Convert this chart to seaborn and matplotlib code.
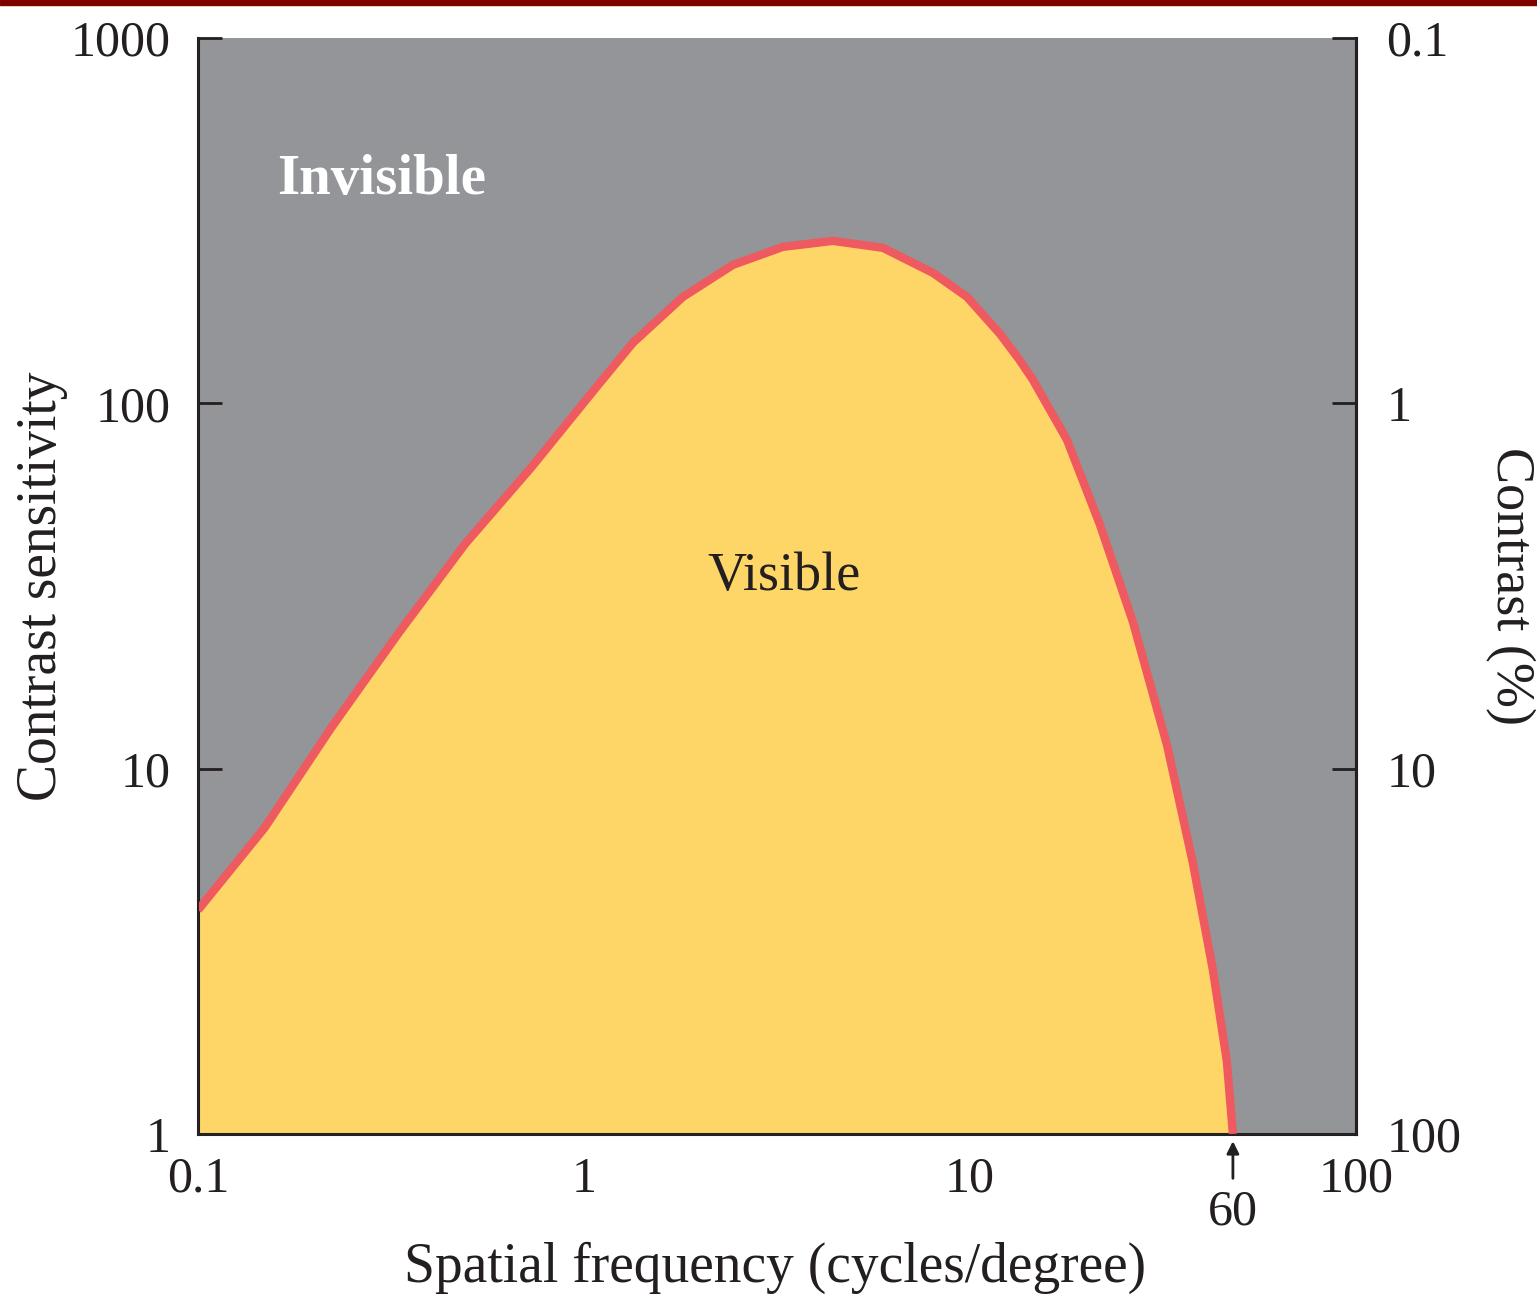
import numpy as np
import pandas as pd
import seaborn as sns
import matplotlib.pyplot as plt
from matplotlib.ticker import FixedLocator, NullLocator

# Contrast sensitivity function
freq = [0.1, 0.149, 0.221, 0.330, 0.492, 0.729, 1.094, 1.339, 1.805, 2.432,
        3.277, 4.417, 5.952, 8.019, 9.822, 11.96, 13.4, 14.56, 17.84, 21.72,
        26.44, 32.4, 37.8, 42.6, 46.3, 48.0]
sensitivity = [4.1, 6.9, 12.9, 23.4, 41.2, 66.6, 113.0, 146.4, 195.6, 239.3,
               268.1, 278.4, 266.4, 227.5, 195.6, 154.9, 132.0, 115.9, 79.4, 46.5,
               25.2, 11.6, 5.52, 2.81, 1.58, 1.0]
cutoff_label = "60"

x_ticks = [0.1, 1, 10, 100]
x_labels = ["0.1", "1", "10", "100"]
y_ticks = [1, 10, 100, 1000]
y_labels = ["1", "10", "100", "1000"]
contrast_ticks = [0.1, 1, 10, 100]
contrast_labels = ["0.1", "1", "10", "100"]

df = pd.DataFrame({"freq": freq, "sens": sensitivity})

GRAY = "#939598"
YELLOW = "#FDD667"
RED = "#EE5A5F"
INK = "#231F20"

sns.set_style("ticks")
plt.rcParams["font.family"] = ["Liberation Serif", "DejaVu Serif"]

fig = plt.figure(figsize=(15.37, 12.97), dpi=100)
ax = fig.add_axes([0.1288, 0.1257, 0.7534, 0.845])
ax.set_facecolor(GRAY)
ax.set_xscale("log")
ax.set_yscale("log")
ax.set_xlim(0.1, 100)
ax.set_ylim(1, 1000)

ax.fill_between(df["freq"], df["sens"], 1, color=YELLOW, lw=0, zorder=1)
sns.lineplot(data=df, x="freq", y="sens", ax=ax, color=RED, lw=6,
             solid_capstyle="butt", solid_joinstyle="round", zorder=3, sort=False)

ax.xaxis.set_major_locator(FixedLocator(x_ticks))
ax.set_xticklabels(x_labels)
ax.xaxis.set_minor_locator(NullLocator())
ax.yaxis.set_major_locator(FixedLocator(y_ticks))
ax.set_yticklabels(y_labels)
ax.yaxis.set_minor_locator(NullLocator())

ax.tick_params(axis="both", which="major", direction="in", length=17, width=2,
               color=INK, labelsize=36, labelcolor=INK)
ax.tick_params(axis="x", pad=16)
ax.tick_params(axis="y", pad=20)
ax.spines["top"].set_visible(False)
for s in ["left", "bottom", "right"]:
    ax.spines[s].set_linewidth(2.2)
    ax.spines[s].set_color(INK)

ax.set_xlabel("Spatial frequency (cycles/degree)", fontsize=40, color=INK, va="center")
ax.xaxis.set_label_coords(0.498, -0.122)
ax.set_ylabel("Contrast sensitivity", fontsize=40, color=INK, va="center")
ax.yaxis.set_label_coords(-0.135, 0.5)

# right axis: contrast in percent
ax2 = ax.twinx()
ax2.set_yscale("log")
ax2.set_ylim(100, 0.1)
ax2.yaxis.set_major_locator(FixedLocator(contrast_ticks))
ax2.set_yticklabels(contrast_labels)
ax2.yaxis.set_minor_locator(NullLocator())
ax2.tick_params(axis="y", direction="in", length=17, width=2, color=INK,
                labelsize=36, labelcolor=INK, pad=22)
ax2.spines["top"].set_visible(False)
ax2.spines["right"].set_linewidth(2.2)
ax2.spines["right"].set_color(INK)
ax2.set_ylabel("Contrast (%)", fontsize=39, color=INK, rotation=-90, va="center")
ax2.yaxis.set_label_coords(1.133, 0.5)

# region labels
ax.text(0.159, 0.870, "Invisible", transform=ax.transAxes, fontsize=41,
        fontweight="bold", color="white", ha="center", va="center")
ax.text(0.506, 0.508, "Visible", transform=ax.transAxes, fontsize=39,
        color=INK, ha="center", va="center")

# cutoff arrow
cut = freq[-1]
ax.annotate("", xy=(cut, -0.004), xycoords=("data", "axes fraction"),
            xytext=(cut, -0.043), textcoords=("data", "axes fraction"),
            arrowprops=dict(arrowstyle="-|>", color=INK, lw=2, mutation_scale=18),
            annotation_clip=False)
ax.text(cut, -0.071, cutoff_label, transform=ax.get_xaxis_transform(),
        fontsize=36, color=INK, ha="center", va="center")

# dark red band at top of the slide
fig.patches.append(plt.Rectangle((0, 0.996), 1, 0.004, transform=fig.transFigure,
                                 color="#800000", zorder=10))

fig.savefig("out.png", dpi=100)
